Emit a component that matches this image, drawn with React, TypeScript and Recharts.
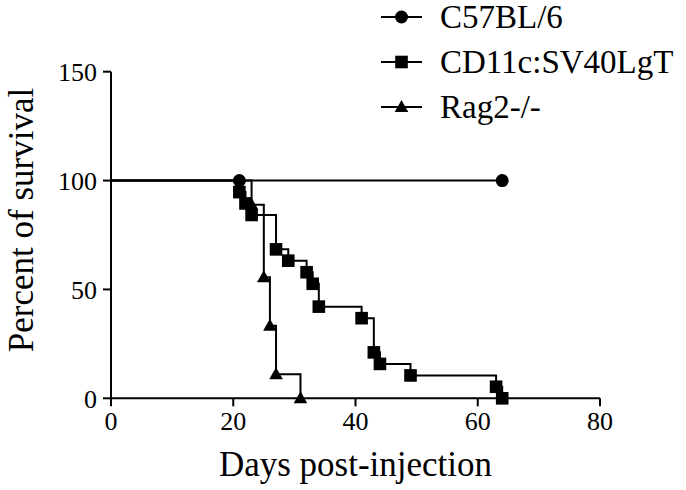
import React from 'react'
import { LineChart, Line, XAxis, YAxis } from 'recharts'

// Kaplan-Meier survival steps (day, percent surviving after that day's deaths)
const c57Days = [0, 21, 64]
const c57Pct = [100, 100, 100]

const cd11cDays = [0, 21, 22, 23, 27, 29, 32, 33, 34, 41, 43, 44, 49, 63, 64]
const cd11cPct = [100, 94.7, 89.5, 84.2, 68.4, 63.2, 57.9, 52.6, 42.1, 36.8, 21.1, 15.8, 10.5, 5.3, 0]

const ragDays = [0, 23, 25, 26, 27, 31]
const ragPct = [100, 88.9, 55.6, 33.3, 11.1, 0]

const xTicks = [0, 20, 40, 60, 80]
const yTicks = [0, 50, 100, 150]

const SERIES_NAMES = ['C57BL/6', 'CD11c:SV40LgT', 'Rag2-/-']

const toRows = (days: number[], pct: number[]) => days.map((d, i) => ({ day: d, pct: pct[i] }))

const c57Data = toRows(c57Days, c57Pct)
const cd11cData = toRows(cd11cDays, cd11cPct)
const ragData = toRows(ragDays, ragPct)

const FONT = "'Times New Roman', 'Liberation Serif', serif"

type Shape = 'circle' | 'square' | 'triangle'

function Marker({ shape, cx, cy }: { shape: Shape; cx: number; cy: number }) {
  if (shape === 'circle') return <circle cx={cx} cy={cy} r={6.5} fill="#000" />
  if (shape === 'square') return <rect x={cx - 6.3} y={cy - 6.3} width={12.6} height={12.6} fill="#000" />
  return <polygon points={`${cx},${cy - 7} ${cx - 6.8},${cy + 5} ${cx + 6.8},${cy + 5}`} fill="#000" />
}

// no symbol on the day-0 starting point
const dotFor = (shape: Shape) => (props: any) => {
  const { cx, cy, index } = props
  if (index === 0 || cx == null || cy == null) return <g key={`d-${shape}-${index}`} />
  return <Marker key={`d-${shape}-${index}`} shape={shape} cx={cx} cy={cy} />
}

const yLabel = () => (
  <text
    transform="translate(33,220) rotate(-90)"
    textAnchor="middle"
    fontSize={35}
    style={{ fontFamily: FONT }}
    fill="#000"
  >
    Percent of survival
  </text>
)

const tickStyle = { fontSize: 26, fill: '#000', style: { fontFamily: FONT } }

const shapes: Shape[] = ['circle', 'square', 'triangle']

export default function App() {
  return (
    <div
      style={{
        position: 'absolute',
        left: 0,
        top: 0,
        width: 686,
        height: 490,
        background: '#fff',
        fontFamily: FONT,
      }}
    >
      <LineChart
        width={686}
        height={490}
        margin={{ top: 71.7, right: 86, left: 51, bottom: 11.7 }}
        style={{ fontFamily: FONT }}
      >
        <XAxis
          type="number"
          dataKey="day"
          domain={[0, 80]}
          ticks={xTicks}
          height={80}
          axisLine={{ stroke: '#000', strokeWidth: 2 }}
          tickLine={{ stroke: '#000', strokeWidth: 2 }}
          tickSize={8}
          tickMargin={5}
          tick={tickStyle}
          label={{
            value: 'Days post-injection',
            position: 'insideBottom',
            offset: 2,
            fontSize: 35,
            fill: '#000',
            style: { fontFamily: FONT },
          }}
        />
        <YAxis
          type="number"
          domain={[0, 150]}
          ticks={yTicks}
          width={60}
          axisLine={{ stroke: '#000', strokeWidth: 2 }}
          tickLine={{ stroke: '#000', strokeWidth: 2 }}
          tickSize={8}
          tickMargin={6}
          tick={tickStyle}
          label={{ content: yLabel }}
        />
        <Line
          data={ragData}
          dataKey="pct"
          type="stepAfter"
          stroke="#000"
          strokeWidth={2}
          dot={dotFor('triangle')}
          activeDot={false}
          isAnimationActive={false}
          name={SERIES_NAMES[2]}
        />
        <Line
          data={cd11cData}
          dataKey="pct"
          type="stepAfter"
          stroke="#000"
          strokeWidth={2}
          dot={dotFor('square')}
          activeDot={false}
          isAnimationActive={false}
          name={SERIES_NAMES[1]}
        />
        <Line
          data={c57Data}
          dataKey="pct"
          type="stepAfter"
          stroke="#000"
          strokeWidth={2}
          dot={dotFor('circle')}
          activeDot={false}
          isAnimationActive={false}
          name={SERIES_NAMES[0]}
        />
      </LineChart>
      <div style={{ position: 'absolute', left: 381, top: 6.5 }}>
        {SERIES_NAMES.map((name, i) => (
          <div key={name} style={{ display: 'flex', alignItems: 'center', height: 20, marginBottom: 25 }}>
            <svg width={41} height={20} style={{ marginRight: 18 }}>
              <line x1={0} y1={10} x2={41} y2={10} stroke="#000" strokeWidth={2} />
              <Marker shape={shapes[i]} cx={20.5} cy={10} />
            </svg>
            <span
              style={{ fontSize: 33, lineHeight: '20px', color: '#000', whiteSpace: 'nowrap', fontFamily: FONT }}
            >
              {name}
            </span>
          </div>
        ))}
      </div>
    </div>
  )
}
